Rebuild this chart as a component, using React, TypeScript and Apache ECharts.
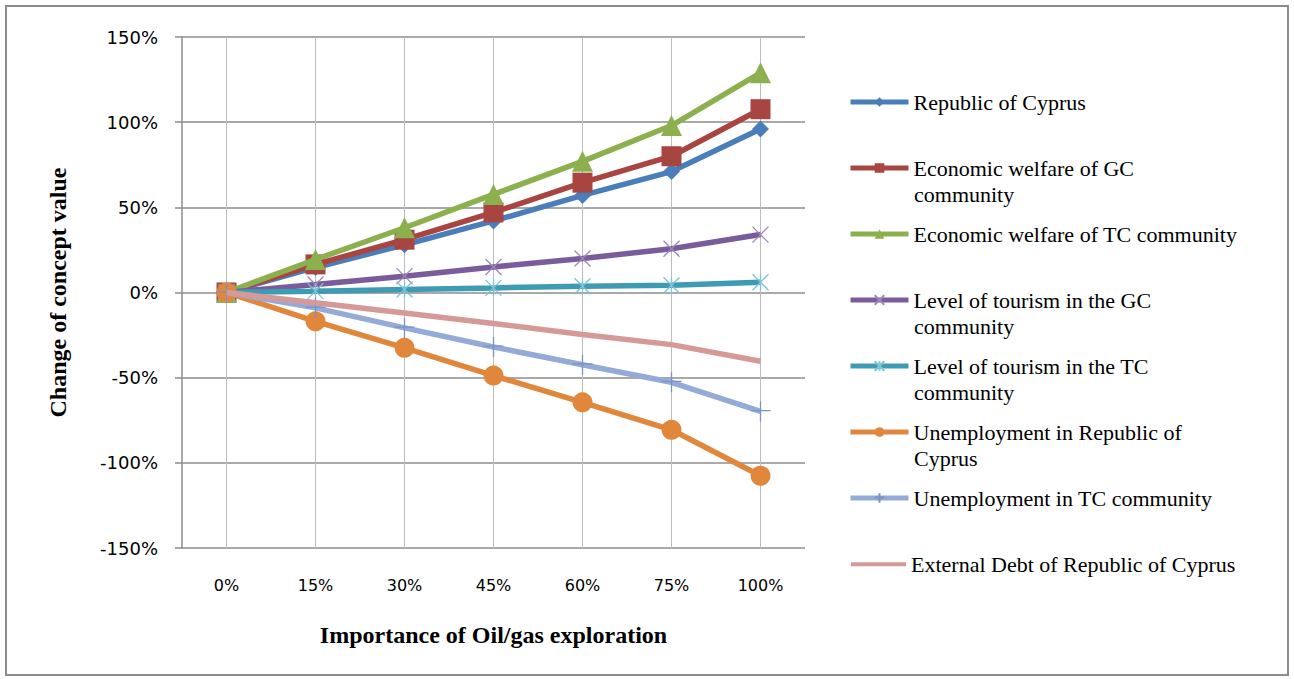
import React, { useEffect, useRef } from "react";
import * as echarts from "echarts";

const categories = ["0%", "15%", "30%", "45%", "60%", "75%", "100%"];

const republicOfCyprus = [0, 0.147, 0.28, 0.42, 0.57, 0.71, 0.96];
const welfareGC = [0, 0.165, 0.31, 0.47, 0.645, 0.8, 1.076];
const welfareTC = [0, 0.194, 0.38, 0.576, 0.77, 0.98, 1.29];
const tourismGC = [0, 0.047, 0.096, 0.15, 0.2, 0.257, 0.34];
const tourismTC = [0, 0.008, 0.018, 0.027, 0.037, 0.043, 0.06];
const unemploymentRoC = [0, -0.169, -0.325, -0.488, -0.645, -0.806, -1.076];
const unemploymentTC = [0, -0.09, -0.208, -0.32, -0.424, -0.527, -0.698];
const externalDebt = [0, -0.06, -0.12, -0.182, -0.247, -0.306, -0.404];

const yTicks = { min: -1.5, max: 1.5, interval: 0.5 };

const seriesNames = [
  "Republic of Cyprus",
  "Economic welfare of GC community",
  "Economic welfare of TC community",
  "Level of tourism in the GC community",
  "Level of tourism in the TC community",
  "Unemployment in Republic of Cyprus",
  "Unemployment in TC community",
  "External Debt of Republic of Cyprus",
];

const legendFirstLines = [
  "Republic of Cyprus",
  "Economic welfare of GC",
  "Economic welfare of TC community",
  "Level of tourism in the GC",
  "Level of tourism in the TC",
  "Unemployment in Republic of",
  "Unemployment in TC community",
  "External Debt of Republic of Cyprus",
];

const legendSecondLines = ["", "community", "", "community", "community", "Cyprus", "", ""];

export default function App() {
  const ref = useRef<HTMLDivElement>(null);

  useEffect(() => {
    if (!ref.current) return;
    const chart = echarts.init(ref.current, undefined, { renderer: "svg" });

    const serif = "'Liberation Serif', 'Times New Roman', serif";
    const sans = "'DejaVu Sans', Verdana, sans-serif";

    const X = "path://M0,0L10,10M10,0L0,10";
    const STAR = "path://M0,0L10,10M10,0L0,10M5,0L5,10";
    const PLUS = "path://M5,0L5,10M2.8,4.6L7.2,4.6";
    const BAND = "path://M0,0L0.01,0M0,4L62,4L62,8.5L0,8.5ZM0,12L0.01,12";

    const defs = [
      { data: republicOfCyprus, color: "#4A7EBB", symbol: "diamond", size: 17, stroke: false, markColor: "" },
      { data: welfareGC, color: "#A94540", symbol: "rect", size: 20, stroke: false, markColor: "" },
      { data: welfareTC, color: "#8DB04F", symbol: "triangle", size: 21, stroke: false, markColor: "" },
      { data: tourismGC, color: "#7A5C9C", symbol: X, size: 16, stroke: true, markColor: "#9C86BB" },
      { data: tourismTC, color: "#3D9BB3", symbol: STAR, size: 16, stroke: true, markColor: "#7CC4D6" },
      { data: unemploymentRoC, color: "#E0873C", symbol: "circle", size: 20, stroke: false, markColor: "" },
      { data: unemploymentTC, color: "#93ABD6", symbol: PLUS, size: 20, stroke: true, markColor: "#7B92C4" },
      { data: externalDebt, color: "#D59A98", symbol: "none", size: 0, stroke: false, markColor: "" },
    ];

    const series: any[] = defs.map((d, i) => ({
      name: seriesNames[i],
      type: "line",
      data: d.data,
      symbol: d.symbol,
      symbolSize: d.size,
      showSymbol: d.symbol !== "none",
      lineStyle: { color: d.color, width: 5.5 },
      itemStyle: d.stroke
        ? { color: "none", borderColor: d.markColor, borderWidth: 1.3 }
        : { color: d.color, borderWidth: 0 },
      z: 2 + i,
      emphasis: { disabled: true },
    }));

    const legendCenters = [102, 168, 234, 300, 366, 432, 498, 564];
    const legends = seriesNames.map((name, i) => {
      const band = defs[i].symbol === "none";
      return {
        show: true,
        orient: "vertical",
        left: band ? 851 : 848,
        top: legendCenters[i] - 13,
        itemWidth: band ? 55 : 58,
        itemHeight: 12,
        padding: 0,
        selectedMode: false,
        data: [band ? { name, icon: BAND } : { name }],
        formatter: () => legendFirstLines[i],
        lineStyle: { width: 5 },
        textStyle: {
          fontFamily: serif,
          fontSize: 22,
          lineHeight: 26,
          color: "#000",
        },
      };
    });

    const secondLineTexts = legendSecondLines
      .map((t, i) => ({ t, i }))
      .filter((o) => o.t)
      .map((o) => ({
        type: "text",
        left: 914,
        top: legendCenters[o.i] + 26 - 13,
        style: {
          text: o.t,
          fontFamily: serif,
          fontSize: 22,
          lineHeight: 26,
          fill: "#000",
        },
        silent: true,
      }));

    chart.setOption({
      animation: false,
      backgroundColor: "#fff",
      grid: { left: 182, right: 489, top: 37, bottom: 131, containLabel: false },
      legend: legends,
      xAxis: {
        type: "category",
        data: categories,
        boundaryGap: true,
        name: "Importance of Oil/gas exploration",
        nameLocation: "middle",
        nameGap: 75,
        nameTextStyle: { fontFamily: serif, fontWeight: "bold", fontSize: 24, color: "#000" },
        axisLine: { show: false },
        axisTick: { show: false },
        axisLabel: { fontFamily: sans, fontSize: 16, color: "#000", margin: 29 },
        splitLine: { show: true, alignWithLabel: true, lineStyle: { color: "#BDBDBD", width: 1 } },
      },
      yAxis: {
        type: "value",
        min: yTicks.min,
        max: yTicks.max,
        interval: yTicks.interval,
        name: "Change of concept value",
        nameLocation: "middle",
        nameGap: 112,
        nameTextStyle: { fontFamily: serif, fontWeight: "bold", fontSize: 24, color: "#000" },
        axisLine: { show: true, lineStyle: { color: "#8C8C8C", width: 1.5 } },
        axisTick: { show: true, length: 7, inside: false, lineStyle: { color: "#8C8C8C", width: 1.5 } },
        axisLabel: {
          fontFamily: sans,
          fontSize: 18,
          color: "#000",
          margin: 24,
          formatter: (v: number) => Math.round(v * 100) + "%",
        },
        splitLine: { show: true, lineStyle: { color: "#8C8C8C", width: 1.5 } },
      },
      graphic: [
        {
          type: "rect",
          shape: { x: 6, y: 6, width: 1282, height: 669 },
          style: { fill: "none", stroke: "#8C8C8C", lineWidth: 2 },
          silent: true,
        },
        ...secondLineTexts,
      ],
      series,
    });

    return () => chart.dispose();
  }, []);

  return (
    <div
      ref={ref}
      style={{ position: "fixed", left: 0, top: 0, width: 1294, height: 679 }}
    />
  );
}
